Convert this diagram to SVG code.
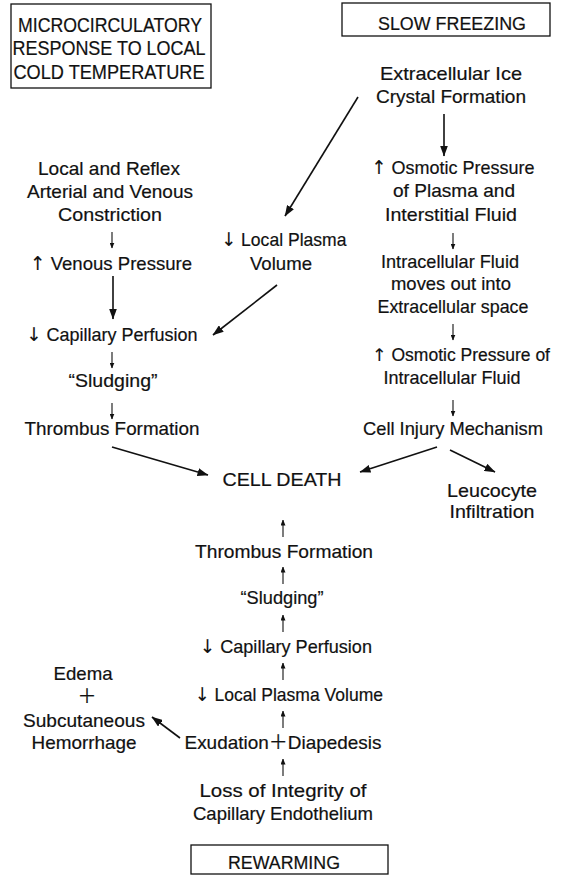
<svg xmlns="http://www.w3.org/2000/svg" width="562" height="875" viewBox="0 0 562 875">
<defs>
<style>
.t{font-family:"Liberation Sans","Noto Sans CJK JP",Arial,sans-serif;font-size:19px;fill:#111;stroke:#111;stroke-width:0.2;text-anchor:middle}
.h{font-size:20px}
.ar{font-family:"DejaVu Sans",sans-serif;stroke-width:0.1}
.box{fill:none;stroke:#111;stroke-width:1.3}
.big{stroke:#111;stroke-width:1.6;fill:none;marker-end:url(#ah)}
.sm{stroke:#111;stroke-width:1.1;fill:none;marker-end:url(#as)}
</style>
<marker id="ah" markerUnits="userSpaceOnUse" markerWidth="11" markerHeight="8" refX="10.5" refY="4" orient="auto">
<path d="M0,0 L11,4 L0,8 z" fill="#111"/>
</marker>
<marker id="as" markerUnits="userSpaceOnUse" markerWidth="6" markerHeight="5" refX="5.5" refY="2.5" orient="auto">
<path d="M0,0 L6,2.5 L0,5 z" fill="#111"/>
</marker>
</defs>
<rect width="562" height="875" fill="#fff"/>

<g id="micro-header">
<rect class="box" x="11" y="4" width="200" height="84"/>
<text class="t h" x="110" y="32" textLength="184" lengthAdjust="spacingAndGlyphs">MICROCIRCULATORY</text>
<text class="t h" x="109" y="55" textLength="193" lengthAdjust="spacingAndGlyphs">RESPONSE TO LOCAL</text>
<text class="t h" x="109" y="79" textLength="191" lengthAdjust="spacingAndGlyphs">COLD TEMPERATURE</text>
</g>

<g id="slow-freezing">
<rect class="box" x="342" y="3" width="208" height="33"/>
<text class="t" x="452" y="30" textLength="148" lengthAdjust="spacingAndGlyphs">SLOW FREEZING</text>
</g>

<g id="ice-crystal">
<text class="t" x="451" y="80" textLength="142" lengthAdjust="spacingAndGlyphs">Extracellular Ice</text>
<text class="t" x="451" y="103" textLength="150" lengthAdjust="spacingAndGlyphs">Crystal Formation</text>
</g>

<g id="osmotic-plasma">
<text class="t" x="453" y="174" textLength="163" lengthAdjust="spacingAndGlyphs"><tspan class="ar">↑</tspan> Osmotic Pressure</text>
<text class="t" x="454" y="197" textLength="122" lengthAdjust="spacingAndGlyphs">of Plasma and</text>
<text class="t" x="451" y="221" textLength="132" lengthAdjust="spacingAndGlyphs">Interstitial Fluid</text>
</g>

<g id="fluid-moves">
<text class="t" x="450" y="268" textLength="138" lengthAdjust="spacingAndGlyphs">Intracellular Fluid</text>
<text class="t" x="451" y="290" textLength="120" lengthAdjust="spacingAndGlyphs">moves out into</text>
<text class="t" x="453" y="313" textLength="151" lengthAdjust="spacingAndGlyphs">Extracellular space</text>
</g>

<g id="osmotic-intracellular">
<text class="t" x="461" y="361" style="font-size:17.5px" textLength="178" lengthAdjust="spacingAndGlyphs"><tspan class="ar">↑</tspan> Osmotic Pressure of</text>
<text class="t" x="452" y="384" textLength="137" lengthAdjust="spacingAndGlyphs">Intracellular Fluid</text>
</g>

<g id="cell-injury">
<text class="t" x="453" y="435" textLength="180" lengthAdjust="spacingAndGlyphs">Cell Injury Mechanism</text>
</g>

<g id="leucocyte">
<text class="t" x="492" y="497" textLength="90" lengthAdjust="spacingAndGlyphs">Leucocyte</text>
<text class="t" x="492" y="518" textLength="85" lengthAdjust="spacingAndGlyphs">Infiltration</text>
</g>

<g id="constriction">
<text class="t" x="109" y="175" textLength="142" lengthAdjust="spacingAndGlyphs">Local and Reflex</text>
<text class="t" x="110" y="198" textLength="166" lengthAdjust="spacingAndGlyphs">Arterial and Venous</text>
<text class="t" x="110" y="221" textLength="104" lengthAdjust="spacingAndGlyphs">Constriction</text>
</g>

<g id="venous-pressure">
<text class="t" x="111" y="270" textLength="162" lengthAdjust="spacingAndGlyphs"><tspan class="ar">↑</tspan> Venous Pressure</text>
</g>

<g id="local-plasma">
<text class="t" x="284" y="246" textLength="125" lengthAdjust="spacingAndGlyphs"><tspan class="ar">↓</tspan> Local Plasma</text>
<text class="t" x="281" y="270" textLength="62" lengthAdjust="spacingAndGlyphs">Volume</text>
</g>

<g id="capillary-perfusion-1">
<text class="t" x="112" y="341" textLength="171" lengthAdjust="spacingAndGlyphs"><tspan class="ar">↓</tspan> Capillary Perfusion</text>
</g>

<g id="sludging-1">
<text class="t" x="113" y="387" textLength="89" lengthAdjust="spacingAndGlyphs">“Sludging”</text>
</g>

<g id="thrombus-1">
<text class="t" x="112" y="435" textLength="175" lengthAdjust="spacingAndGlyphs">Thrombus Formation</text>
</g>

<g id="cell-death">
<text class="t" x="282" y="486" textLength="119" lengthAdjust="spacingAndGlyphs">CELL DEATH</text>
</g>

<g id="thrombus-2">
<text class="t" x="284" y="558" textLength="178" lengthAdjust="spacingAndGlyphs">Thrombus Formation</text>
</g>

<g id="sludging-2">
<text class="t" x="282" y="604" textLength="83" lengthAdjust="spacingAndGlyphs">“Sludging”</text>
</g>

<g id="capillary-perfusion-2">
<text class="t" x="286" y="653" textLength="172" lengthAdjust="spacingAndGlyphs"><tspan class="ar">↓</tspan> Capillary Perfusion</text>
</g>

<g id="local-plasma-2">
<text class="t" x="289" y="701" textLength="188" lengthAdjust="spacingAndGlyphs"><tspan class="ar">↓</tspan> Local Plasma Volume</text>
</g>

<g id="exudation">
<text class="t" x="283" y="749" textLength="197" lengthAdjust="spacingAndGlyphs">Exudation＋Diapedesis</text>
</g>

<g id="loss-integrity">
<text class="t" x="283" y="797" textLength="167" lengthAdjust="spacingAndGlyphs">Loss of Integrity of</text>
<text class="t" x="283" y="820" textLength="180" lengthAdjust="spacingAndGlyphs">Capillary Endothelium</text>
</g>

<g id="rewarming">
<rect class="box" x="191" y="845" width="197" height="29"/>
<text class="t" x="284" y="869" textLength="112" lengthAdjust="spacingAndGlyphs">REWARMING</text>
</g>

<g id="edema">
<text class="t" x="83" y="680" textLength="59" lengthAdjust="spacingAndGlyphs">Edema</text>
<text class="t" x="87" y="703">＋</text>
<text class="t" x="84" y="727" textLength="122" lengthAdjust="spacingAndGlyphs">Subcutaneous</text>
<text class="t" x="84" y="749" textLength="105" lengthAdjust="spacingAndGlyphs">Hemorrhage</text>
</g>

<g id="connectors">
<line class="big" x1="358" y1="97" x2="285" y2="216"/>
<line class="big" x1="444" y1="114" x2="444" y2="156"/>
<line class="big" x1="113" y1="276" x2="113" y2="319"/>
<line class="big" x1="277" y1="285" x2="213" y2="335"/>
<line class="big" x1="112" y1="447" x2="208" y2="475"/>
<line class="big" x1="437" y1="447" x2="360" y2="472"/>
<line class="big" x1="450" y1="450" x2="495" y2="472"/>
<line class="big" x1="180" y1="738" x2="152" y2="717"/>
<line class="sm" x1="112" y1="232" x2="112" y2="248"/>
<line class="sm" x1="112" y1="352" x2="112" y2="368"/>
<line class="sm" x1="112" y1="403" x2="112" y2="419"/>
<line class="sm" x1="453" y1="233" x2="453" y2="249"/>
<line class="sm" x1="453" y1="324" x2="453" y2="340"/>
<line class="sm" x1="453" y1="400" x2="453" y2="416"/>
<line class="sm" x1="283" y1="537" x2="283" y2="520"/>
<line class="sm" x1="283" y1="584" x2="283" y2="567"/>
<line class="sm" x1="283" y1="632" x2="283" y2="615"/>
<line class="sm" x1="283" y1="680" x2="283" y2="663"/>
<line class="sm" x1="283" y1="728" x2="283" y2="711"/>
<line class="sm" x1="283" y1="776" x2="283" y2="759"/>
</g>
</svg>
